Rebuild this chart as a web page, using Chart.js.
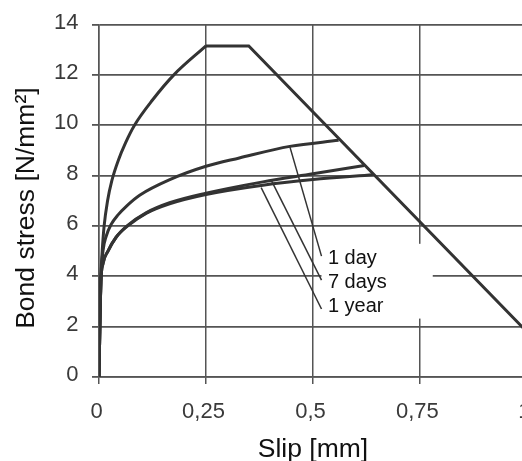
<!DOCTYPE html>
<html>
<head>
<meta charset="utf-8">
<script src="https://cdn.jsdelivr.net/npm/chart.js@4/dist/chart.umd.min.js"></script>
<style>
  html, body { margin: 0; padding: 0; background: #fff; overflow: hidden; }
  #wrap { width: 522px; height: 461px; overflow: hidden; }
</style>
</head>
<body>
<div id="wrap"><canvas id="chart" width="548" height="461"></canvas></div>
<script>
// Tick labels (decimal comma, as in the original)
const xTickLabels = ['0', '0,25', '0,5', '0,75', '1'];

// Envelope curve (rising part)
const peakSlip   = [0, 0.002, 0.0045, 0.0075, 0.012, 0.02, 0.03, 0.045, 0.062, 0.083, 0.125, 0.175, 0.25];
const peakStress = [0, 2, 4, 5, 6, 7, 7.8, 8.6, 9.3, 10, 11, 12, 13.15];

// Plateau + softening branch
const softSlip   = [0.25, 0.35, 1.0];
const softStress = [13.15, 13.15, 1.8];

// 1 day
const daySlip   = [0, 0.002, 0.0045, 0.0093, 0.017, 0.028, 0.045, 0.065, 0.095, 0.1655, 0.25, 0.328, 0.446, 0.56];
const dayStress = [0, 2, 3.9, 5, 5.6, 6.05, 6.45, 6.8, 7.22, 7.84, 8.37, 8.7, 9.16, 9.4];

// 7 days
const weekSlip   = [0, 0.002, 0.0045, 0.0093, 0.021, 0.04, 0.067, 0.11, 0.165, 0.25, 0.383, 0.5, 0.62];
const weekStress = [0, 2, 3.8, 4.5, 5.0, 5.55, 6.02, 6.52, 6.92, 7.3, 7.75, 8.07, 8.4];

// 1 year
const yearSlip   = [0, 0.002, 0.0045, 0.0093, 0.021, 0.04, 0.067, 0.11, 0.165, 0.25, 0.383, 0.5, 0.64];
const yearStress = [0, 2, 3.8, 4.5, 5.0, 5.55, 6.0, 6.5, 6.88, 7.25, 7.62, 7.84, 8.03];

// Annotation labels and their leader lines
const labelNames      = ['1 day', '7 days', '1 year'];
const labelBaseline   = [4.48, 3.53, 2.59];
const leaderFromSlip  = [0.446, 0.403, 0.379];
const leaderFromStress= [9.15, 7.8, 7.52];
const leaderToSlip    = [0.52, 0.52, 0.52];
const leaderToStress  = [4.8, 3.85, 2.7];

const toPoints = (xs, ys) => xs.map((x, i) => ({ x, y: ys[i] }));

const curveStyle = {
    borderColor: '#333',
    borderWidth: 3,
    pointRadius: 0,
    fill: false,
    cubicInterpolationMode: 'monotone'
};

const datasets = [
    { label: 'envelope', data: toPoints(peakSlip, peakStress), ...curveStyle },
    { label: 'softening', data: toPoints(softSlip, softStress), ...curveStyle, cubicInterpolationMode: 'default', tension: 0 },
    { label: '1 day', data: toPoints(daySlip, dayStress), ...curveStyle },
    { label: '7 days', data: toPoints(weekSlip, weekStress), ...curveStyle },
    { label: '1 year', data: toPoints(yearSlip, yearStress), ...curveStyle }
];

labelNames.forEach((name, i) => {
    datasets.push({
        label: name + ' leader',
        data: [
            { x: leaderFromSlip[i], y: leaderFromStress[i] },
            { x: leaderToSlip[i], y: leaderToStress[i] }
        ],
        borderColor: '#333',
        borderWidth: 1.5,
        pointRadius: 0,
        tension: 0
    });
});

// White label box with the three age labels
const labelBox = {
    id: 'labelBox',
    beforeDatasetsDraw(chart) {
        const { ctx, scales: { x, y } } = chart;
        const left = x.getPixelForValue(0.52);
        const right = x.getPixelForValue(0.78);
        const top = y.getPixelForValue(5.29);
        const bottom = y.getPixelForValue(2.32);
        ctx.save();
        ctx.fillStyle = '#fff';
        ctx.fillRect(left, top, right - left, bottom - top);
        ctx.fillStyle = '#111';
        ctx.font = '20px "Liberation Sans", Arial, sans-serif';
        ctx.textBaseline = 'alphabetic';
        ctx.textAlign = 'left';
        labelNames.forEach((t, i) => {
            ctx.fillText(t, x.getPixelForValue(0.535), y.getPixelForValue(labelBaseline[i]));
        });
        ctx.restore();
    }
};

Chart.defaults.font.family = '"Liberation Sans", Arial, sans-serif';

new Chart(document.getElementById('chart'), {
    type: 'line',
    data: { datasets },
    options: {
        responsive: false,
        animation: false,
        layout: { padding: { left: 0, top: 22.7, right: 13, bottom: 0 } },
        plugins: {
            legend: { display: false },
            tooltip: { enabled: false }
        },
        scales: {
            x: {
                type: 'linear',
                min: 0,
                max: 1,
                afterFit: (s) => { s.height = 84; },
                ticks: {
                    stepSize: 0.25,
                    color: '#3a3a3a',
                    font: { size: 22 },
                    padding: 15,
                    labelOffset: -2.5,
                    maxRotation: 0,
                    callback: (v, i) => xTickLabels[i]
                },
                grid: { color: '#555', lineWidth: 1.5, tickLength: 7 },
                border: { color: '#555', width: 1.5 },
                title: {
                    display: true,
                    text: 'Slip [mm]',
                    color: '#111',
                    font: { size: 26.5, lineHeight: 0.84 },
                    padding: { top: 0, bottom: 0 }
                }
            },
            y: {
                min: 0,
                max: 14,
                afterFit: (s) => { s.width = 99; },
                ticks: {
                    stepSize: 2,
                    color: '#3a3a3a',
                    font: { size: 22, lineHeight: 1.0 },
                    padding: 13.5,
                    labelOffset: -2
                },
                grid: { color: '#555', lineWidth: 1.8, tickLength: 7 },
                border: { color: '#555', width: 1.5 },
                title: {
                    display: true,
                    text: 'Bond stress [N/mm²]\u00a0\u00a0',
                    color: '#111',
                    font: { size: 26.5 },
                    padding: { top: 11, bottom: 0 }
                }
            }
        }
    },
    plugins: [labelBox]
});
</script>
</body>
</html>
